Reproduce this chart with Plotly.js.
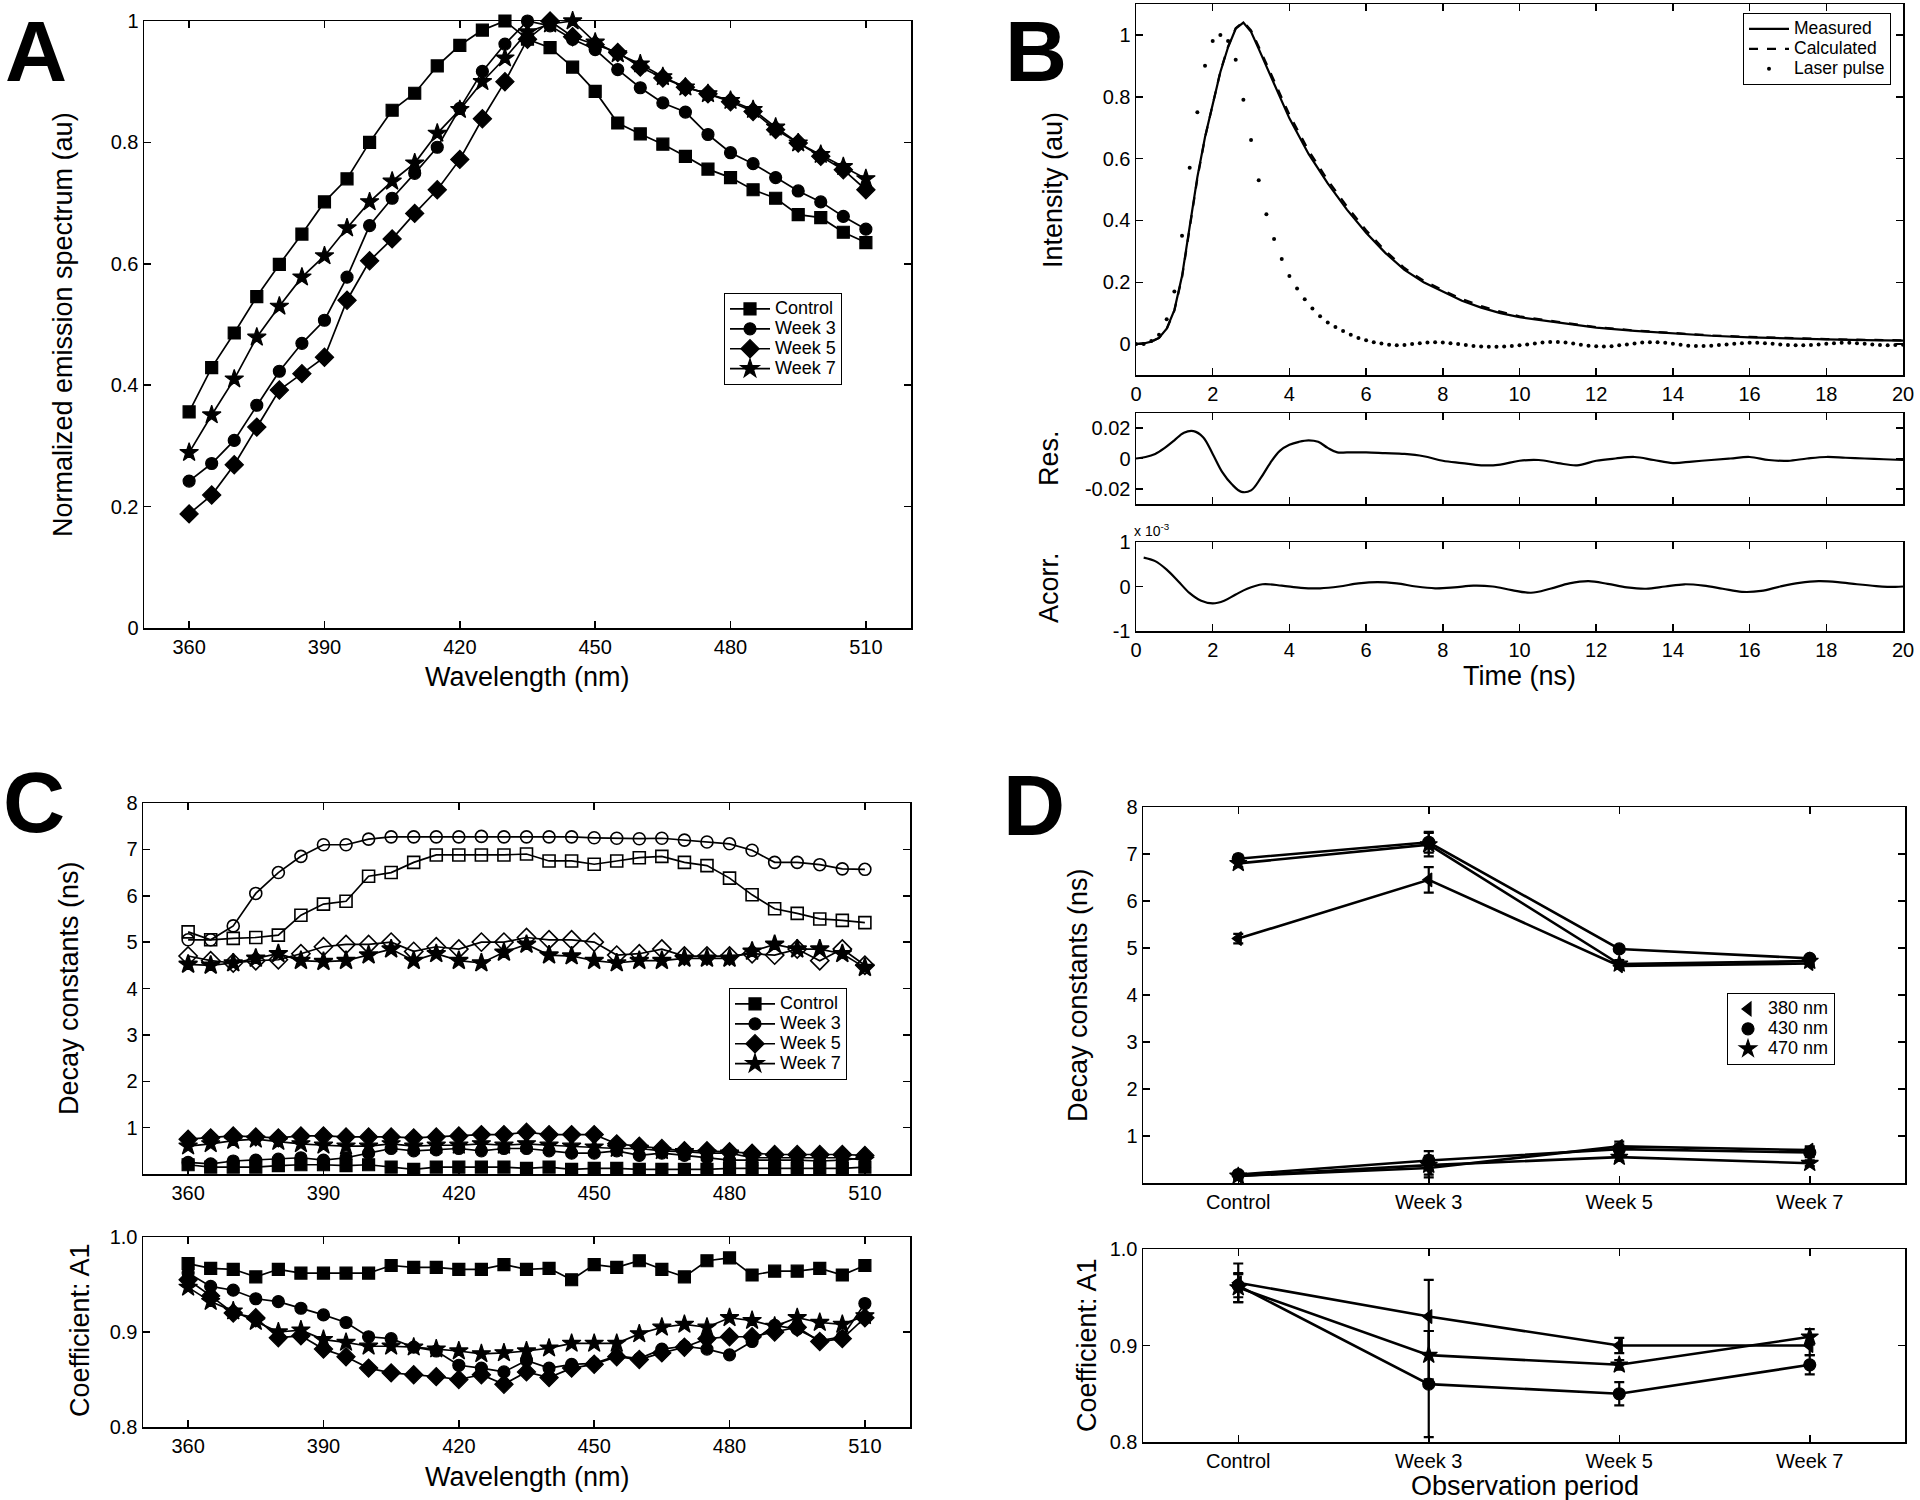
<!DOCTYPE html>
<html><head><meta charset="utf-8">
<script src="https://cdn.plot.ly/plotly-3.0.1.min.js"></script>
<style>html,body{margin:0;padding:0;background:#fff}#chart{width:1920px;height:1500px}</style>
</head><body><div id="chart"></div>
<script>
// ---------- DATA ----------
const wavelengths = [360,365,370,375,380,385,390,395,400,405,410,415,420,425,430,435,440,445,450,455,460,465,470,475,480,485,490,495,500,505,510];
const groupNames = ['Control','Week 3','Week 5','Week 7'];

// Panel A: normalized emission spectra
const specControl = [0.356,0.429,0.486,0.546,0.599,0.649,0.702,0.740,0.800,0.853,0.881,0.926,0.960,0.985,1.000,0.970,0.956,0.924,0.884,0.832,0.814,0.797,0.777,0.756,0.742,0.722,0.708,0.681,0.676,0.652,0.635];
const specWeek3 = [0.242,0.271,0.309,0.367,0.423,0.469,0.507,0.578,0.663,0.708,0.749,0.792,0.856,0.917,0.962,1.000,0.992,0.970,0.953,0.920,0.890,0.865,0.850,0.813,0.783,0.765,0.742,0.720,0.702,0.678,0.657];
const specWeek5 = [0.188,0.219,0.269,0.331,0.392,0.419,0.446,0.540,0.605,0.641,0.683,0.722,0.772,0.839,0.900,0.970,1.000,0.974,0.961,0.948,0.924,0.906,0.891,0.880,0.867,0.851,0.821,0.799,0.777,0.755,0.722];
const specWeek7 = [0.289,0.351,0.410,0.479,0.530,0.578,0.613,0.659,0.702,0.736,0.766,0.815,0.854,0.900,0.939,0.982,0.995,1.000,0.965,0.946,0.929,0.908,0.891,0.880,0.869,0.854,0.825,0.799,0.780,0.760,0.740];

// Panel B: decay curves
const timeB = [0,0.2,0.4,0.6,0.8,1.0,1.2,1.4,1.6,1.8,2.0,2.2,2.4,2.6,2.8,3.0,3.2,3.4,3.6,3.8,4.0,4.5,5.0,5.5,6.0,6.5,7.0,7.5,8.0,8.5,9.0,9.5,10,11,12,13,14,15,16,17,18,19,20];
const measured = [0.000,0.002,0.008,0.020,0.050,0.110,0.220,0.380,0.540,0.670,0.780,0.880,0.960,1.020,1.040,1.010,0.955,0.900,0.840,0.785,0.730,0.615,0.520,0.435,0.360,0.295,0.240,0.200,0.170,0.140,0.118,0.100,0.087,0.070,0.053,0.043,0.034,0.027,0.022,0.018,0.015,0.013,0.011];
const calculated = [0.000,0.002,0.008,0.020,0.048,0.108,0.215,0.375,0.535,0.668,0.780,0.882,0.962,1.022,1.042,1.015,0.962,0.908,0.850,0.795,0.742,0.626,0.530,0.445,0.368,0.302,0.246,0.205,0.174,0.146,0.123,0.105,0.090,0.072,0.055,0.044,0.035,0.028,0.023,0.019,0.016,0.014,0.012];
const timeLaser = [0,0.2,0.4,0.6,0.8,1.0,1.2,1.4,1.6,1.8,2.0,2.2,2.4,2.6,2.8,3.0,3.2,3.4,3.6,3.8,4.0,4.2,4.4,4.6,4.8,5.0,5.2,5.4,5.6,5.8,6.0,6.2,6.4,6.6,6.8,7.0,7.2,7.4,7.6,7.8,8.0,8.2,8.4,8.6,8.8,9.0,9.2,9.4,9.6,9.8,10.0,10.2,10.4,10.6,10.8,11.0,11.2,11.4,11.6,11.8,12.0,12.2,12.4,12.6,12.8,13.0,13.2,13.4,13.6,13.8,14.0,14.2,14.4,14.6,14.8,15.0,15.2,15.4,15.6,15.8,16.0,16.2,16.4,16.6,16.8,17.0,17.2,17.4,17.6,17.8,18.0,18.2,18.4,18.6,18.8,19.0,19.2,19.4,19.6,19.8,20.0];
const laserPulse = [0,0,0.01,0.03,0.08,0.17,0.35,0.57,0.75,0.90,0.98,1.0,0.98,0.92,0.79,0.66,0.53,0.42,0.34,0.275,0.22,0.18,0.145,0.115,0.09,0.07,0.055,0.042,0.03,0.02,0.012,0.006,0.002,-0.002,-0.004,-0.003,0.0,0.003,0.005,0.006,0.005,0.003,0.0,-0.003,-0.006,-0.008,-0.009,-0.009,-0.008,-0.006,-0.004,-0.001,0.002,0.005,0.007,0.007,0.005,0.002,-0.002,-0.005,-0.007,-0.008,-0.007,-0.004,-0.001,0.002,0.005,0.006,0.006,0.004,0.001,-0.002,-0.005,-0.006,-0.006,-0.005,-0.003,-0.001,0.001,0.003,0.004,0.004,0.003,0.001,-0.001,-0.003,-0.004,-0.004,-0.003,-0.001,0.001,0.003,0.004,0.004,0.003,0.001,-0.001,-0.003,-0.004,-0.003,-0.002];
const timeRes = [0,0.25,0.5,0.75,1.0,1.25,1.5,1.75,2.0,2.25,2.5,2.75,3.0,3.25,3.5,3.75,4.0,4.25,4.5,4.75,5.0,5.25,5.5,6,6.5,7,7.5,8,8.5,9,9.5,10,10.5,11,11.5,12,12.5,13,13.5,14,14.5,15,15.5,16,16.5,17,17.5,18,18.5,19,19.5,20];
const residual = [0,0.001,0.003,0.007,0.012,0.017,0.018,0.014,0.003,-0.009,-0.017,-0.022,-0.021,-0.013,-0.003,0.005,0.009,0.011,0.012,0.011,0.007,0.004,0.004,0.004,0.0035,0.003,0.0015,-0.0015,-0.003,-0.0045,-0.004,-0.0015,-0.001,-0.003,-0.0045,-0.0015,0.0,0.001,-0.001,-0.003,-0.002,-0.001,0.0,0.001,-0.001,-0.0015,0.0,0.001,0.0005,0.0,-0.0005,-0.001];
const timeAcorr = [0.2,0.5,0.8,1.1,1.4,1.7,2.0,2.3,2.6,2.9,3.3,3.8,4.3,4.8,5.3,5.8,6.3,6.8,7.3,7.8,8.3,8.8,9.3,9.8,10.3,10.8,11.3,11.8,12.3,12.8,13.3,13.8,14.3,14.8,15.3,15.8,16.3,16.8,17.3,17.8,18.3,18.8,19.3,19.8,20];
const autocorr = [0.65,0.57,0.38,0.12,-0.15,-0.32,-0.38,-0.32,-0.18,-0.05,0.05,0.02,-0.03,-0.04,0.0,0.07,0.1,0.07,0.0,-0.04,-0.02,0.02,0.0,-0.08,-0.14,-0.05,0.07,0.12,0.06,-0.02,-0.05,0.0,0.05,0.02,-0.05,-0.12,-0.1,0.0,0.08,0.12,0.1,0.05,0.01,-0.01,0.0];

// Panel C: decay constants vs wavelength
const tau2Control = [5.22,5.05,5.08,5.10,5.15,5.58,5.82,5.88,6.42,6.50,6.72,6.88,6.88,6.88,6.88,6.90,6.75,6.75,6.68,6.75,6.82,6.85,6.72,6.65,6.38,6.02,5.72,5.62,5.50,5.47,5.42];
const tau2Week3 = [5.05,5.05,5.35,6.05,6.50,6.85,7.10,7.10,7.22,7.27,7.27,7.27,7.27,7.28,7.27,7.27,7.27,7.27,7.25,7.24,7.23,7.24,7.20,7.16,7.12,6.98,6.72,6.72,6.67,6.58,6.57];
const tau2Week5 = [4.70,4.60,4.55,4.60,4.62,4.75,4.90,4.95,4.95,5.00,4.80,4.90,4.85,5.00,5.00,5.10,5.05,5.05,5.00,4.72,4.75,4.85,4.70,4.70,4.70,4.75,4.72,4.85,4.60,4.85,4.50];
const tau2Week7 = [4.52,4.50,4.55,4.65,4.75,4.60,4.58,4.60,4.72,4.85,4.60,4.75,4.60,4.55,4.78,4.95,4.72,4.70,4.60,4.55,4.60,4.60,4.65,4.65,4.65,4.80,4.95,4.85,4.85,4.75,4.45];
const tau1Control = [0.20,0.15,0.15,0.15,0.18,0.20,0.20,0.18,0.20,0.15,0.10,0.15,0.15,0.15,0.15,0.12,0.15,0.10,0.12,0.12,0.10,0.10,0.10,0.10,0.12,0.12,0.12,0.12,0.12,0.12,0.15];
const tau1Week3 = [0.25,0.22,0.28,0.30,0.32,0.35,0.30,0.35,0.45,0.55,0.50,0.52,0.55,0.50,0.55,0.55,0.50,0.45,0.45,0.50,0.40,0.45,0.40,0.35,0.30,0.30,0.30,0.30,0.28,0.30,0.35];
const tau1Week5 = [0.75,0.78,0.82,0.80,0.78,0.82,0.82,0.80,0.80,0.80,0.78,0.80,0.82,0.85,0.85,0.90,0.85,0.85,0.85,0.65,0.60,0.55,0.50,0.50,0.48,0.45,0.42,0.42,0.42,0.42,0.40];
const tau1Week7 = [0.60,0.65,0.72,0.75,0.70,0.65,0.62,0.60,0.60,0.65,0.60,0.62,0.62,0.65,0.62,0.65,0.62,0.60,0.58,0.55,0.55,0.50,0.48,0.45,0.45,0.35,0.35,0.35,0.35,0.35,0.30];
const a1Control = [0.972,0.967,0.966,0.958,0.966,0.962,0.962,0.962,0.962,0.970,0.968,0.968,0.966,0.966,0.971,0.966,0.967,0.955,0.971,0.968,0.975,0.966,0.958,0.975,0.978,0.960,0.964,0.964,0.967,0.960,0.970];
const a1Week3 = [0.962,0.948,0.944,0.935,0.932,0.925,0.918,0.910,0.895,0.893,0.884,0.880,0.865,0.862,0.858,0.870,0.862,0.866,0.867,0.875,0.872,0.882,0.885,0.882,0.876,0.890,0.907,0.903,0.891,0.895,0.930];
const a1Week5 = [0.955,0.938,0.920,0.915,0.894,0.896,0.882,0.874,0.862,0.857,0.855,0.853,0.850,0.855,0.845,0.858,0.852,0.862,0.866,0.874,0.871,0.878,0.884,0.893,0.895,0.895,0.900,0.905,0.890,0.893,0.915];
const a1Week7 = [0.947,0.932,0.922,0.911,0.900,0.902,0.892,0.889,0.885,0.885,0.884,0.882,0.880,0.877,0.878,0.880,0.883,0.888,0.888,0.888,0.898,0.905,0.908,0.905,0.915,0.912,0.906,0.915,0.910,0.908,0.917];

// Panel D: by observation period
const periods = ['Control','Week 3','Week 5','Week 7'];
const dLabels = ['380 nm','430 nm','470 nm'];
const dTau2 = [[5.20,6.45,4.62,4.67],[6.90,7.25,4.98,4.78],[6.80,7.20,4.66,4.72]];
const dTau2Err = [[0.10,0.27,0.06,0.05],[0.08,0.22,0.06,0.05],[0.08,0.25,0.08,0.06]];
const dTau1 = [[0.15,0.32,0.78,0.70],[0.18,0.48,0.72,0.65],[0.15,0.38,0.55,0.42]];
const dTau1Err = [[0.08,0.20,0.10,0.08],[0.06,0.20,0.10,0.10],[0.06,0.20,0.08,0.06]];
const dA1 = [[0.965,0.930,0.900,0.900],[0.962,0.860,0.850,0.880],[0.960,0.890,0.880,0.909]];
const dA1Err = [[0.020,0.038,0.008,0.010],[0.012,0.055,0.012,0.010],[0.015,0.025,0.005,0.008]];

// ---------- STYLE / LAYOUT ----------
const F = 'Liberation Sans, Arial, sans-serif';
const W = 1920, H = 1500;
const px = v => v / W;
const py = v => 1 - v / H;
const K = 'black';

function axis(domain, range, extra) {
  return Object.assign({
    domain: domain, range: range, showgrid: false, zeroline: false,
    showline: true, linecolor: K, linewidth: 1.5, mirror: 'ticks',
    ticks: 'inside', ticklen: 7, tickwidth: 1.5, tickcolor: K,
    tickfont: {family: F, size: 20, color: K}, fixedrange: true
  }, extra || {});
}

const wlTicks = {tickmode: 'array', tickvals: [360,390,420,450,480,510]};
const fracTicks = {tickmode: 'array', tickvals: [0,0.2,0.4,0.6,0.8,1], ticktext: ['0','0.2','0.4','0.6','0.8','1']};
const tauTicks = {tickmode: 'array', tickvals: [1,2,3,4,5,6,7,8]};
const a1Ticks = {tickmode: 'array', tickvals: [0.8,0.9,1.0], ticktext: ['0.8','0.9','1.0']};
const timeTicks = {tickmode: 'array', tickvals: [0,2,4,6,8,10,12,14,16,18,20]};

const xA = [px(144), px(911)], yA = [py(628), py(21)];
const xB = [px(1136), px(1903)];
const xC = [px(143), px(910)];
const xD = [px(1143), px(1905)];

function legendBox(x, y, iw) {
  return {x: px(x), y: py(y), xanchor: 'left', yanchor: 'top', bgcolor: 'white',
          bordercolor: K, borderwidth: 1, font: {family: F, size: 13, color: K},
          tracegroupgap: 0, itemwidth: iw};
}
// legend labels: compact rows (13px line box) with larger glyphs
const big = (t, s) => '<span style="font-size:' + (s || 18) + 'px">' + t + '</span>';

const layout = {
  width: W, height: H, margin: {l: 0, r: 0, t: 0, b: 0},
  paper_bgcolor: 'white', plot_bgcolor: 'white',
  font: {family: F, color: K},
  showlegend: true,
  xaxis: axis(xA, [350, 520], Object.assign({anchor: 'y'}, wlTicks)),
  yaxis: axis(yA, [0, 1], Object.assign({anchor: 'x'}, fracTicks)),
  xaxis2: axis(xB, [0, 20], Object.assign({anchor: 'y2'}, timeTicks)),
  yaxis2: axis([py(375), py(4)], [-0.1, 1.1], Object.assign({anchor: 'x2'}, fracTicks)),
  xaxis3: axis(xB, [0, 20], Object.assign({anchor: 'y3', showticklabels: false}, timeTicks)),
  yaxis3: axis([py(504), py(413)], [-0.03, 0.03], {anchor: 'x3', tickmode: 'array', tickvals: [-0.02,0,0.02], ticktext: ['-0.02','0','0.02']}),
  xaxis4: axis(xB, [0, 20], Object.assign({anchor: 'y4'}, timeTicks)),
  yaxis4: axis([py(631), py(542)], [-1, 1], {anchor: 'x4', tickmode: 'array', tickvals: [-1,0,1], ticktext: ['-1','0','1']}),
  xaxis5: axis(xC, [350, 520], Object.assign({anchor: 'y5'}, wlTicks)),
  yaxis5: axis([py(1174), py(803)], [0, 8], Object.assign({anchor: 'x5'}, tauTicks)),
  xaxis6: axis(xC, [350, 520], Object.assign({anchor: 'y6'}, wlTicks)),
  yaxis6: axis([py(1427), py(1237)], [0.8, 1.0], Object.assign({anchor: 'x6'}, a1Ticks)),
  xaxis7: axis(xD, [-0.5, 3.5], {anchor: 'y7', type: 'category', categoryorder: 'array', categoryarray: periods}),
  yaxis7: axis([py(1183), py(807)], [0, 8], Object.assign({anchor: 'x7'}, tauTicks)),
  xaxis8: axis(xD, [-0.5, 3.5], {anchor: 'y8', type: 'category', categoryorder: 'array', categoryarray: periods}),
  yaxis8: axis([py(1442), py(1249)], [0.8, 1.0], Object.assign({anchor: 'x8'}, a1Ticks)),
  legend: legendBox(724, 293, 40),
  legend2: legendBox(1743, 13, 40),
  legend3: legendBox(729, 988, 40),
  legend4: legendBox(1727, 993, 30),
  annotations: []
};

function note(text, x, y, size, opts) {
  layout.annotations.push(Object.assign({
    text: text, x: px(x), y: py(y), xref: 'paper', yref: 'paper',
    xanchor: 'center', yanchor: 'middle', showarrow: false,
    font: {family: F, size: size, color: K}
  }, opts || {}));
}
// panel letters
note('<b>A</b>', 36, 2, 86, {yanchor: 'top', borderpad: 0});
note('<b>B</b>', 1036, 2, 86, {yanchor: 'top', borderpad: 0});
note('<b>C</b>', 34, 802, 86);
note('<b>D</b>', 1034, 805, 86);
// axis titles
note('Normalized emission spectrum (au)', 63, 325, 27, {textangle: -90});
note('Wavelength (nm)', 527, 677, 27);
note('Intensity (au)', 1053, 190, 27, {textangle: -90});
note('Res.', 1049, 458, 27, {textangle: -90});
note('Acorr.', 1049, 588, 27, {textangle: -90});
note('Time (ns)', 1519, 676, 27);
note('x 10<sup>-3</sup>', 1152, 530, 14);
note('Decay constants (ns)', 69, 988, 27, {textangle: -90});
note('Coefficient: A1', 80, 1330, 27, {textangle: -90});
note('Wavelength (nm)', 527, 1477, 27);
note('Decay constants (ns)', 1078, 995, 27, {textangle: -90});
note('Coefficient: A1', 1087, 1345, 27, {textangle: -90});
note('Observation period', 1525, 1486, 27);

// ---------- TRACES ----------
const traces = [];
const sym = ['square','circle','diamond','star'];
const symSize = [12, 12, 14, 14];
function series(x, y, xa, ya, symbol, size, name, legend, showlegend, extra) {
  traces.push(Object.assign({
    type: 'scatter', mode: 'lines+markers', x: x, y: y, xaxis: xa, yaxis: ya,
    name: name, legend: legend, showlegend: showlegend, cliponaxis: false,
    line: {color: K, width: 1.7},
    marker: {symbol: symbol, size: size, color: K, line: {color: K, width: 1.2}}
  }, extra || {}));
}

// A
const specSeries = [specControl, specWeek3, specWeek5, specWeek7];
specSeries.forEach((s, i) => series(wavelengths, s, 'x', 'y', sym[i], symSize[i], big(groupNames[i]), 'legend', true));

// B
traces.push({type: 'scatter', mode: 'lines', x: timeB, y: measured, xaxis: 'x2', yaxis: 'y2', name: big('Measured', 17.5), legend: 'legend2', line: {color: K, width: 2.2}});
traces.push({type: 'scatter', mode: 'lines', x: timeB, y: calculated, xaxis: 'x2', yaxis: 'y2', name: big('Calculated', 17.5), legend: 'legend2', line: {color: K, width: 2.2, dash: 'dash'}});
traces.push({type: 'scatter', mode: 'markers', x: timeLaser, y: laserPulse, xaxis: 'x2', yaxis: 'y2', name: big('Laser pulse', 17.5), legend: 'legend2', marker: {color: K, size: 4}});
traces.push({type: 'scatter', mode: 'lines', x: timeRes, y: residual, xaxis: 'x3', yaxis: 'y3', showlegend: false, line: {color: K, width: 2.2, shape: 'spline'}});
traces.push({type: 'scatter', mode: 'lines', x: timeAcorr, y: autocorr, xaxis: 'x4', yaxis: 'y4', showlegend: false, line: {color: K, width: 2.2, shape: 'spline'}});

// C
const tau2Series = [tau2Control, tau2Week3, tau2Week5, tau2Week7];
const tau2Sym = ['square-open','circle-open','diamond-open','star'];
tau2Series.forEach((s, i) => series(wavelengths, s, 'x5', 'y5', tau2Sym[i], symSize[i], groupNames[i], 'legend3', false, {marker: {symbol: tau2Sym[i], size: symSize[i], color: K, line: {color: K, width: 1.6}}}));
const tau1Series = [tau1Control, tau1Week3, tau1Week5, tau1Week7];
tau1Series.forEach((s, i) => series(wavelengths, s, 'x5', 'y5', sym[i], symSize[i], big(groupNames[i]), 'legend3', true));
const a1Series = [a1Control, a1Week3, a1Week5, a1Week7];
a1Series.forEach((s, i) => series(wavelengths, s, 'x6', 'y6', sym[i], symSize[i], groupNames[i], 'legend3', false));

// D
const dSym = ['triangle-left','circle','star'];
const dSize = [12, 12, 13];
function errSpec(arr) { return {type: 'data', array: arr, visible: true, color: K, thickness: 2.2, width: 5}; }
for (let i = 0; i < 3; i++) {
  series(periods, dTau2[i], 'x7', 'y7', dSym[i], dSize[i], dLabels[i], 'legend4', false, {mode: 'lines', error_y: errSpec(dTau2Err[i]), line: {color: K, width: 2.6}});
  series(periods, dTau2[i], 'x7', 'y7', dSym[i], dSize[i], big(dLabels[i]), 'legend4', true, {mode: 'markers'});
  series(periods, dTau1[i], 'x7', 'y7', dSym[i], dSize[i], dLabels[i], 'legend4', false, {error_y: errSpec(dTau1Err[i]), line: {color: K, width: 2.6}});
  series(periods, dA1[i], 'x8', 'y8', dSym[i], dSize[i], dLabels[i], 'legend4', false, {error_y: errSpec(dA1Err[i]), line: {color: K, width: 2.6}});
}

Plotly.newPlot('chart', traces, layout, {staticPlot: true, displayModeBar: false});
</script>
</body></html>
